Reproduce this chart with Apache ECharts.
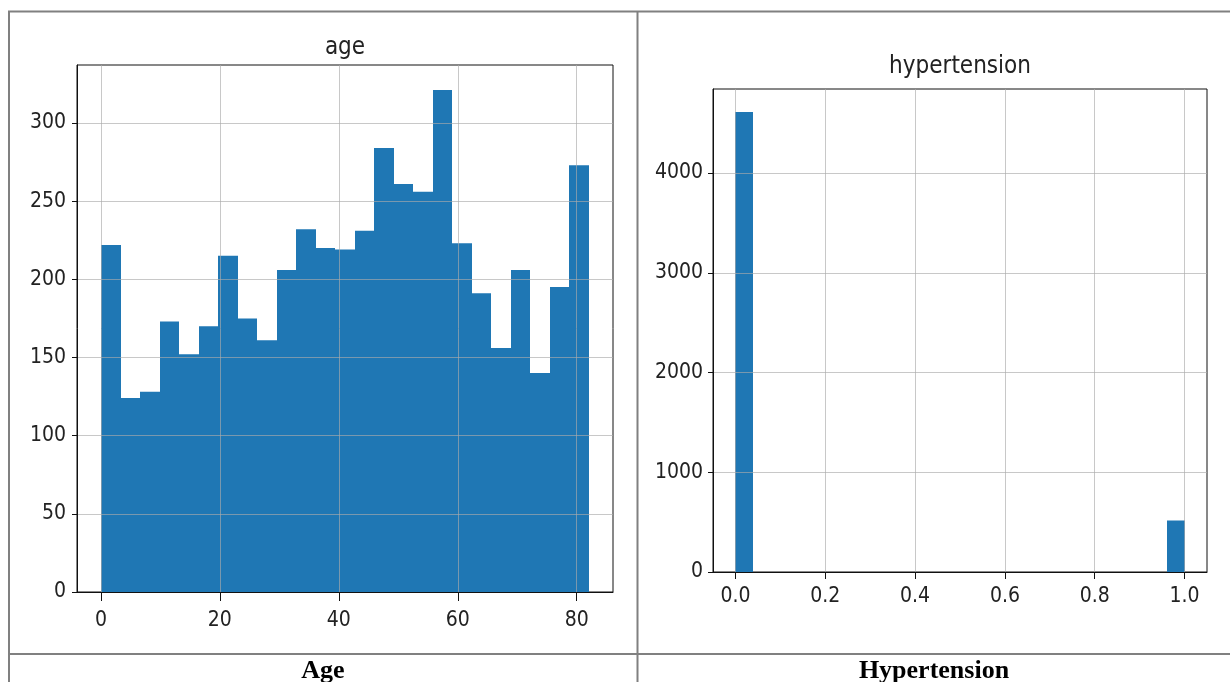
<!DOCTYPE html>
<html>
<head>
<meta charset="utf-8">
<script src="https://cdn.jsdelivr.net/npm/echarts@6/dist/echarts.min.js"></script>
<style>
  html, body { margin: 0; padding: 0; background: #ffffff; }
  #chart { width: 1230px; height: 682px; }
</style>
</head>
<body>
<div id="chart"></div>
<script>
// ---------- data ----------
const ageTitle = 'age';
const hypTitle = 'hypertension';
const captionLeft = 'Age';
const captionRight = 'Hypertension';

// age histogram: 25 equal bins between the data min and max
const ageRange = [0.08, 82];
const ageCounts = [222, 124, 128, 173, 152, 170, 215, 175, 161, 206, 232, 220, 219,
                   231, 284, 261, 256, 321, 223, 191, 156, 206, 140, 195, 273];
const ageXTicks = [0, 20, 40, 60, 80];
const ageYTicks = [0, 50, 100, 150, 200, 250, 300];

// hypertension histogram: 25 equal bins between 0 and 1
const hypRange = [0, 1];
const hypCounts = [4612, 0, 0, 0, 0, 0, 0, 0, 0, 0, 0, 0, 0,
                   0, 0, 0, 0, 0, 0, 0, 0, 0, 0, 0, 517];
const hypXTicks = [0, 0.2, 0.4, 0.6, 0.8, 1.0];
const hypYTicks = [0, 1000, 2000, 3000, 4000];

// ---------- helpers ----------
function binsFrom(range, counts) {
  const n = counts.length, w = (range[1] - range[0]) / n;
  return counts.map((c, i) => [range[0] + i * w, range[0] + (i + 1) * w, c]);
}
function paddedExtent(range) {
  const m = (range[1] - range[0]) * 0.05;
  return [range[0] - m, range[1] + m];
}
const ageBins = binsFrom(ageRange, ageCounts);
const hypBins = binsFrom(hypRange, hypCounts);
const ageX = paddedExtent(ageRange);
const hypX = paddedExtent(hypRange);
const ageYMax = Math.max(...ageCounts) * 1.05;
const hypYMax = Math.max(...hypCounts) * 1.05;

const BAR = '#1f77b4';
const TXT = '#222222';
const SANS = "'Liberation Sans Narrow', 'DejaVu Sans Condensed', 'Liberation Sans', sans-serif";
const SERIF = "'Liberation Serif', 'DejaVu Serif', serif";

function renderBin(params, api) {
  const y = api.value(2);
  if (!y) return null;
  const p0 = api.coord([api.value(0), y]);
  const p1 = api.coord([api.value(1), 0]);
  const x0 = Math.round(p0[0]), x1 = Math.round(p1[0]);
  return {
    type: 'rect',
    shape: { x: x0, y: p0[1], width: x1 - x0, height: p1[1] - p0[1] },
    style: { fill: BAR }
  };
}

function xAxisCfg(gridIndex, ext, ticks, tickLen, margin, fmt) {
  return {
    type: 'value', gridIndex: gridIndex, min: ext[0], max: ext[1], z: 3,
    axisLine: { show: true, onZero: false, lineStyle: { color: '#111', width: 1 } },
    axisTick: { show: true, inside: false, length: tickLen, customValues: ticks,
                lineStyle: { color: '#111', width: 1 } },
    axisLabel: { customValues: ticks, margin: margin, color: TXT, fontSize: 21,
                 fontFamily: SANS, formatter: fmt },
    splitLine: { show: true, lineStyle: { color: 'rgba(170,170,170,0.65)', width: 1 } }
  };
}
function yAxisCfg(gridIndex, max, ticks, margin) {
  return {
    type: 'value', gridIndex: gridIndex, min: 0, max: max, z: 3,
    axisLine: { show: true, onZero: false, lineStyle: { color: '#111', width: 1 } },
    axisTick: { show: true, inside: false, length: 5, customValues: ticks,
                lineStyle: { color: '#111', width: 1 } },
    axisLabel: { customValues: ticks, margin: margin, color: TXT, fontSize: 21,
                 fontFamily: SANS, formatter: v => String(Math.round(v)) },
    splitLine: { show: true, lineStyle: { color: 'rgba(170,170,170,0.65)', width: 1 } }
  };
}

const LINE = '#808080';
const option = {
  backgroundColor: '#ffffff',
  animation: false,
  grid: [
    { left: 77, top: 65, width: 536, height: 527, show: true, borderColor: '#111', borderWidth: 1, backgroundColor: '#fff' },
    { left: 713, top: 89, width: 494, height: 483, show: true, borderColor: '#111', borderWidth: 1, backgroundColor: '#fff' }
  ],
  xAxis: [
    xAxisCfg(0, ageX, ageXTicks, 9, 18, v => String(Math.round(v))),
    xAxisCfg(1, hypX, hypXTicks, 7, 14, v => v.toFixed(1))
  ],
  yAxis: [
    yAxisCfg(0, ageYMax, ageYTicks, 11),
    yAxisCfg(1, hypYMax, hypYTicks, 10)
  ],
  series: [
    { type: 'custom', xAxisIndex: 0, yAxisIndex: 0, renderItem: renderBin,
      encode: { x: [0, 1], y: 2 }, data: ageBins, z: 2 },
    { type: 'custom', xAxisIndex: 1, yAxisIndex: 1, renderItem: renderBin,
      encode: { x: [0, 1], y: 2 }, data: hypBins, z: 2 }
  ],
  graphic: [
    // table borders
    { type: 'line', shape: { x1: 8, y1: 11.5, x2: 1230, y2: 11.5 }, style: { stroke: LINE, lineWidth: 2 } },
    { type: 'line', shape: { x1: 9, y1: 11, x2: 9, y2: 682 }, style: { stroke: LINE, lineWidth: 2 } },
    { type: 'line', shape: { x1: 637.5, y1: 11, x2: 637.5, y2: 682 }, style: { stroke: LINE, lineWidth: 2 } },
    { type: 'line', shape: { x1: 8, y1: 654, x2: 1230, y2: 654 }, style: { stroke: LINE, lineWidth: 2 } },
    // chart titles
    { type: 'text', x: 345, y: 48, style: { text: ageTitle, fill: TXT, font: '24px ' + SANS,
      textAlign: 'center', textVerticalAlign: 'middle' } },
    { type: 'text', x: 960, y: 67, style: { text: hypTitle, fill: TXT, font: '24px ' + SANS,
      textAlign: 'center', textVerticalAlign: 'middle' } },
    // captions
    { type: 'text', x: 323, y: 671, style: { text: captionLeft, fill: '#000', font: 'bold 26px ' + SERIF,
      textAlign: 'center', textVerticalAlign: 'middle' } },
    { type: 'text', x: 934, y: 671, style: { text: captionRight, fill: '#000', font: 'bold 26px ' + SERIF,
      textAlign: 'center', textVerticalAlign: 'middle' } }
  ]
};

const chart = echarts.init(document.getElementById('chart'), null, { renderer: 'canvas' });
chart.setOption(option);
</script>
</body>
</html>
